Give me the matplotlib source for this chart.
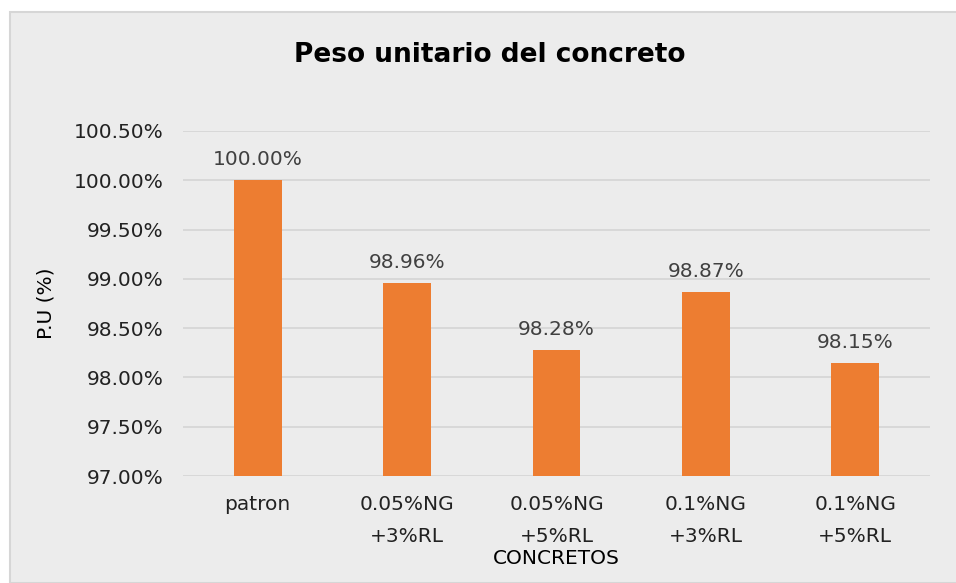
import matplotlib.pyplot as plt
from matplotlib.patches import Rectangle
from matplotlib.ticker import FuncFormatter

# data
categories = ["patron", "0.05%NG\n+3%RL", "0.05%NG\n+5%RL", "0.1%NG\n+3%RL", "0.1%NG\n+5%RL"]
values = [100.00, 98.96, 98.28, 98.87, 98.15]
y_ticks = [97.0, 97.5, 98.0, 98.5, 99.0, 99.5, 100.0, 100.5]

plt.rcParams['font.family'] = ['DejaVu Sans']

bg = '#ECECEC'
bar_color = '#ED7D31'

fig = plt.figure(figsize=(9.56, 5.83), dpi=100)
fig.patch.set_facecolor('white')
# chart frame
fig.patches.append(Rectangle((10 / 956, 0), 1.0, 1 - 12 / 583, transform=fig.transFigure,
                             facecolor=bg, edgecolor='#D6D6D6', linewidth=1.5, zorder=-5))

ax = fig.add_axes([183 / 956, 1 - 476 / 583, (930 - 183) / 956, (476 - 131) / 583])
ax.set_facecolor(bg)

x = range(len(categories))
bars = ax.bar(x, values, width=0.32, color=bar_color, zorder=3)
ax.set_ylim(97.0, 100.5)
ax.set_xlim(-0.5, len(categories) - 0.5)
ax.set_yticks(y_ticks)
ax.yaxis.set_major_formatter(FuncFormatter(lambda v, p: '%.2f%%' % v))
ax.grid(axis='y', color='#D4D4D4', linewidth=1.2, zorder=0)
ax.set_axisbelow(True)
for s in ax.spines.values():
    s.set_visible(False)
ax.tick_params(length=0, labelsize=14.5, colors='#222222')
ax.tick_params(axis='y', pad=14)
ax.tick_params(axis='x', pad=14)
ax.set_xticks(list(x))
ax.set_xticklabels(categories, linespacing=1.85)

for xi, v in zip(x, values):
    ax.annotate('%.2f%%' % v, (xi, v), xytext=(0, 8), textcoords='offset points',
                ha='center', va='bottom', fontsize=14.5, color='#404040')

ax.set_ylabel('P.U (%)', fontsize=14.5, color='black', labelpad=13)
ax.set_xlabel('CONCRETOS', fontsize=14.5, color='black', labelpad=2)
fig.text(490 / 956, 1 - 55 / 583, 'Peso unitario del concreto', ha='center', va='center',
         fontsize=19, fontweight='bold', color='black')

fig.savefig('out.png', dpi=100, facecolor=fig.get_facecolor())
